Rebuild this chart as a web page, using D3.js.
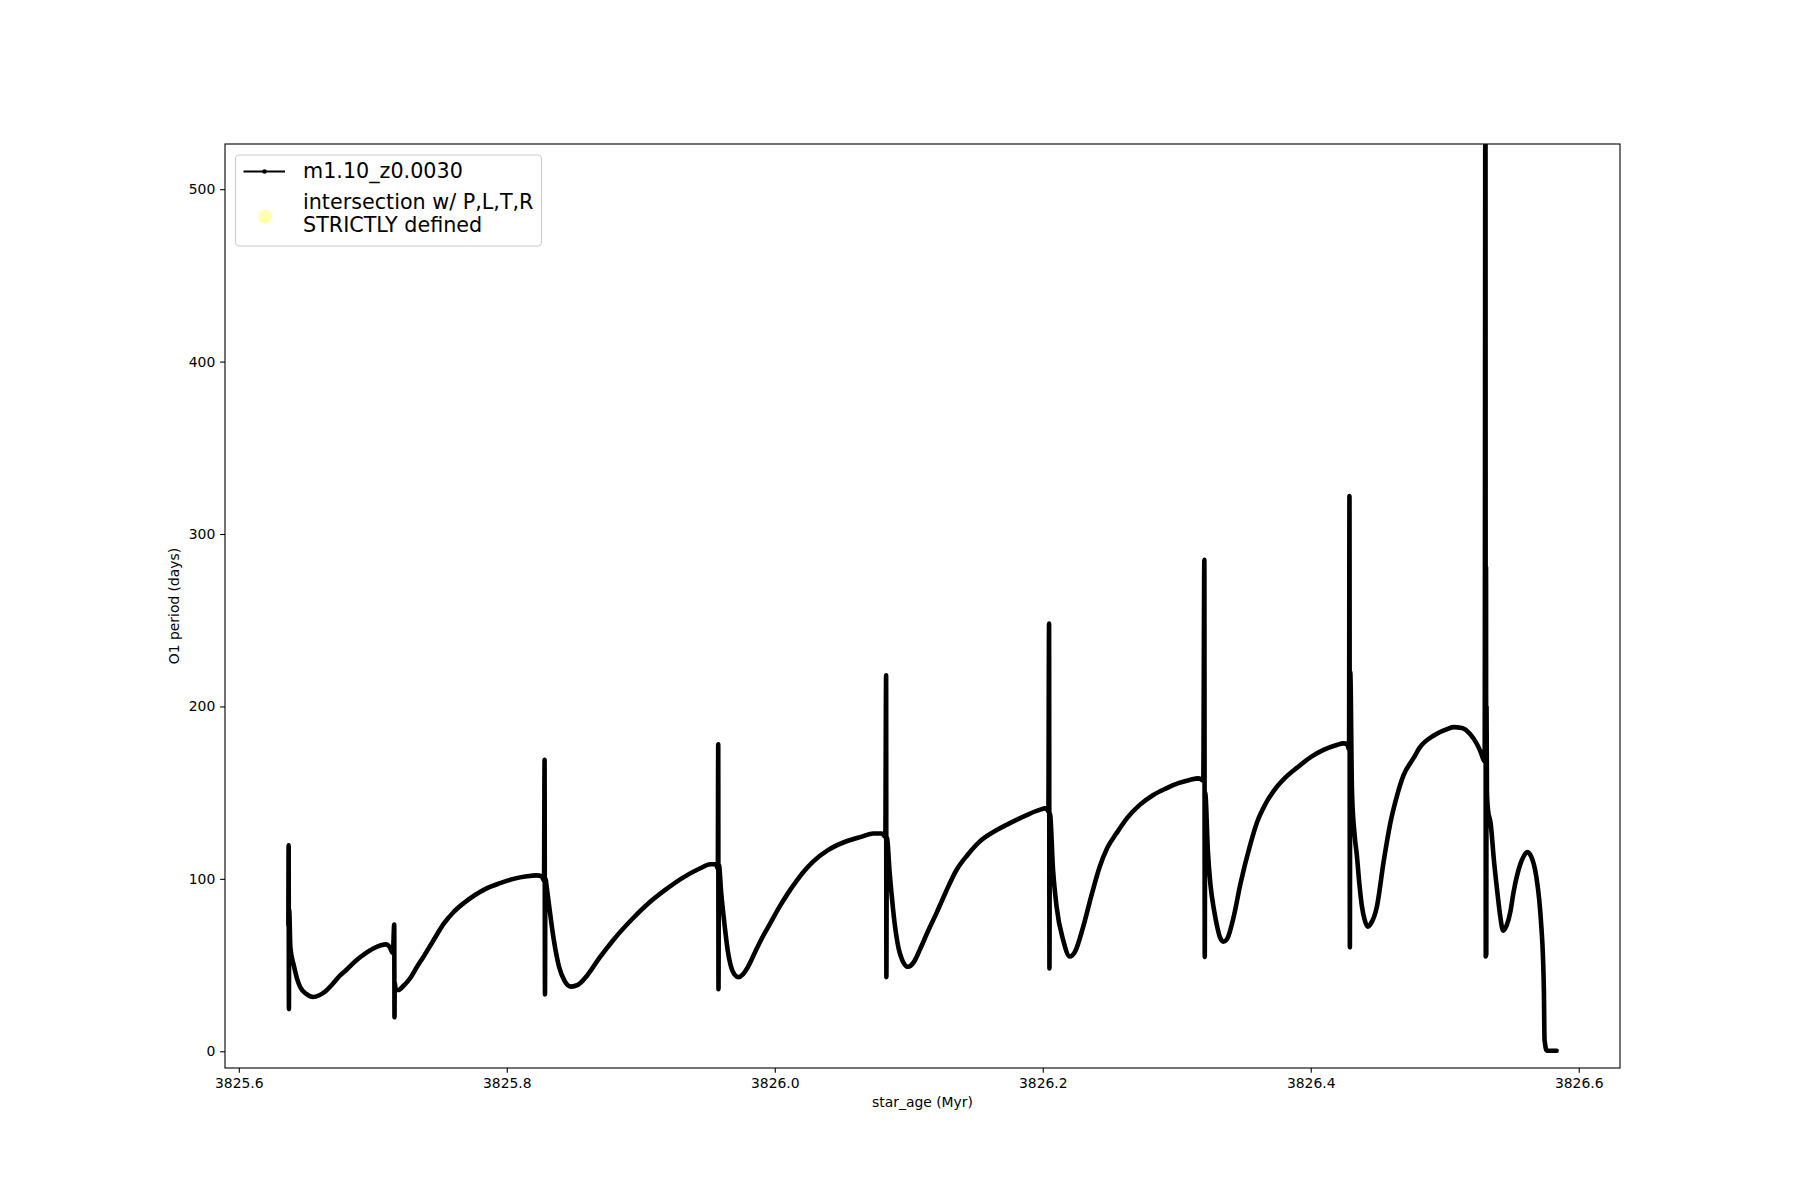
<!DOCTYPE html>
<html>
<head>
<meta charset="utf-8">
<script src="https://cdn.jsdelivr.net/npm/d3@7"></script>
<style>
  html, body { margin: 0; padding: 0; background: #fff; }
  svg { display: block; }
  text { font-family: "DejaVu Sans", sans-serif; fill: #000; }
</style>
</head>
<body>
<svg id="chart" width="1800" height="1200"></svg>
<script>
// ---------------- data ----------------
const seriesName = "m1.10_z0.0030";
const scatterLabel = ["intersection w/ P,L,T,R", "STRICTLY defined"];
const xLabel = "star_age (Myr)";
const yLabel = "O1 period (days)";
const xTicks = [3825.6, 3825.8, 3826.0, 3826.2, 3826.4, 3826.6];
const yTicks = [0, 100, 200, 300, 400, 500];

const starAge = [
  3825.6370, 3825.6372, 3825.6374, 3825.6376, 3825.6385, 3825.6410, 3825.6435, 3825.6460, 3825.6500, 3825.6555,
  3825.6600, 3825.6650, 3825.6700, 3825.6750, 3825.6800, 3825.6880, 3825.6940, 3825.7000, 3825.7060, 3825.7100,
  3825.7125, 3825.7150,
  3825.7160, 3825.7162, 3825.7164, 3825.7170, 3825.7190, 3825.7230, 3825.7280, 3825.7330, 3825.7380, 3825.7450,
  3825.7530, 3825.7600, 3825.7680, 3825.7760, 3825.7850, 3825.7950, 3825.8050, 3825.8150, 3825.8220, 3825.8260,
  3825.8278,
  3825.8282, 3825.8285, 3825.8288, 3825.8300, 3825.8315, 3825.8350, 3825.8390, 3825.8430, 3825.8480, 3825.8530,
  3825.8600, 3825.8690, 3825.8800, 3825.8940, 3825.9060, 3825.9190, 3825.9300, 3825.9440, 3825.9520, 3825.9560,
  3825.9575,
  3825.9578, 3825.9580, 3825.9583, 3825.9600, 3825.9620, 3825.9650, 3825.9670, 3825.9700, 3825.9730, 3825.9760,
  3825.9800, 3825.9850, 3825.9900, 3825.9965, 3826.0037, 3826.0093, 3826.0160, 3826.0220, 3826.0286, 3826.0394,
  3826.0535, 3826.0650, 3826.0734, 3826.0800, 3826.0825,
  3826.0831, 3826.0833, 3826.0836, 3826.0858, 3826.0895, 3826.0933, 3826.0994, 3826.1040, 3826.1082, 3826.1140,
  3826.1206, 3826.1280, 3826.1355, 3826.1440, 3826.1529, 3826.1650, 3826.1777, 3826.1880, 3826.1976, 3826.2026,
  3826.2042,
  3826.2047, 3826.2050, 3826.2053, 3826.2077, 3826.2103, 3826.2152, 3826.2202, 3826.2242, 3826.2301, 3826.2362,
  3826.2425, 3826.2482, 3826.2550, 3826.2632, 3826.2724, 3826.2822, 3826.2922, 3826.3012, 3826.3096, 3826.3165,
  3826.3198,
  3826.3206, 3826.3209, 3826.3212, 3826.3233, 3826.3251, 3826.3278, 3826.3301, 3826.3323, 3826.3348, 3826.3378,
  3826.3425, 3826.3475, 3826.3549, 3826.3600, 3826.3659, 3826.3724, 3826.3808, 3826.3898, 3826.4008, 3826.4096,
  3826.4188, 3826.4245, 3826.4273, 3826.4286,
  3826.4289, 3826.4292, 3826.4295, 3826.4308, 3826.4328, 3826.4345, 3826.4363, 3826.4382, 3826.4403, 3826.4424,
  3826.4448, 3826.4494, 3826.4544, 3826.4593, 3826.4643, 3826.4692, 3826.4767, 3826.4817, 3826.4916, 3826.5008,
  3826.5065, 3826.5128, 3826.5189, 3826.5238, 3826.5266, 3826.5298,
  3826.5304, 3826.5306, 3826.5308, 3826.5310, 3826.5312, 3826.5315, 3826.5323, 3826.5343, 3826.5368, 3826.5393,
  3826.5413, 3826.5436, 3826.5462, 3826.5490, 3826.5513, 3826.5562, 3826.5592, 3826.5615, 3826.5645, 3826.5684,
  3826.5705, 3826.5721, 3826.5733, 3826.5740, 3826.5745, 3826.5762, 3826.5800, 3826.5835
];

const o1Period = [
  73, 119.5, 24.5, 82, 60, 50, 42, 37, 33.5, 31.5,
  32.5, 35, 39, 43.5, 47, 53, 56.5, 59.5, 61.5, 62,
  60.5, 57,
  73.5, 19.7, 40, 36, 35.5, 38, 42.5, 49, 55, 64,
  74, 80.5, 86, 90.5, 94.5, 97.5, 100, 101.5, 102, 101.5,
  99,
  169, 33, 100, 94, 85, 65, 49, 41, 37.5, 38.5,
  44, 54, 65, 77, 86, 94, 100, 106, 108.5, 108.5,
  106,
  178, 36, 108, 92, 77, 58, 50, 44.5, 43, 44.5,
  49, 57, 65, 74, 84, 91, 98.5, 104.5, 110, 116.5,
  121.8, 124.5, 126.3, 126.3, 124.5,
  218, 43, 124, 103, 74, 57, 49, 52, 58.8, 69,
  80, 93, 105, 114, 121.6, 128, 133.2, 137, 140, 141,
  139,
  248, 48, 138, 105, 84, 64.6, 55, 58, 72, 90,
  107, 118, 126.4, 135.5, 142.9, 148.5, 152.5, 155.5, 157.4, 158.3,
  157,
  285, 54.7, 150, 115, 97, 82, 72.5, 66, 63.6, 65.5,
  78, 97, 120, 133, 143, 151, 158.5, 164.5, 171, 174.8,
  177.5, 178.6, 178, 175,
  322, 60.3, 220, 150, 125, 113, 97, 84, 76, 72.3,
  74, 84, 110, 132, 148, 160, 170, 176.5, 183, 186.5,
  188, 187.5, 184, 178.5, 174, 168,
  610, 55, 281, 56, 200, 150, 140, 132, 110, 92,
  79, 70, 73, 81, 92, 108, 113.5, 115.5, 113, 101,
  88, 72.3, 55, 35, 6.5, 0.4, 0.3, 0.3
];

// ---------------- layout ----------------
const plot = { left: 225, right: 1620, top: 144, bottom: 1068 };
const svg = d3.select("#chart");

const x = d3.scaleLinear().domain([3825.5897, 3826.6308]).range([plot.left, plot.right]);
const y = d3.scaleLinear().domain([-9.7, 526.2]).range([plot.bottom, plot.top]);

const points = starAge.map((a, i) => [a, o1Period[i]]);

svg.append("defs").append("clipPath").attr("id", "clip")
  .append("rect")
  .attr("x", plot.left).attr("y", plot.top)
  .attr("width", plot.right - plot.left).attr("height", plot.bottom - plot.top);

// data line (dense markers look like a thick line)
const line = d3.line().x(d => x(d[0])).y(d => y(d[1])).curve(d3.curveMonotoneX);
svg.append("path")
  .datum(points)
  .attr("clip-path", "url(#clip)")
  .attr("d", line)
  .attr("fill", "none")
  .attr("stroke", "#000")
  .attr("stroke-width", 4.6)
  .attr("stroke-linejoin", "round")
  .attr("stroke-linecap", "round");

// axes
const tickLen = 4.86, tickPad = 4.86;
const xAxis = d3.axisBottom(x).tickValues(xTicks).tickFormat(d3.format(".1f"))
  .tickSize(tickLen).tickPadding(tickPad);
const yAxis = d3.axisLeft(y).tickValues(yTicks).tickFormat(d3.format("d"))
  .tickSize(tickLen).tickPadding(tickPad);

const gx = svg.append("g").attr("transform", `translate(0,${plot.bottom})`).call(xAxis);
const gy = svg.append("g").attr("transform", `translate(${plot.left},0)`).call(yAxis);
[gx, gy].forEach(g => {
  g.select(".domain").remove();
  g.selectAll(".tick line").attr("stroke", "#000").attr("stroke-width", 1.1);
  g.selectAll(".tick text").attr("font-size", "13.9px")
    .attr("font-family", "DejaVu Sans, sans-serif").attr("fill", "#000");
});

// frame
svg.append("rect")
  .attr("x", plot.left).attr("y", plot.top)
  .attr("width", plot.right - plot.left).attr("height", plot.bottom - plot.top)
  .attr("fill", "none").attr("stroke", "#000").attr("stroke-width", 1.1);

// axis labels
svg.append("text")
  .attr("x", (plot.left + plot.right) / 2).attr("y", 1107)
  .attr("text-anchor", "middle").attr("font-size", "13.9px")
  .text(xLabel);
svg.append("text")
  .attr("transform", `translate(179,${(plot.top + plot.bottom) / 2}) rotate(-90)`)
  .attr("text-anchor", "middle").attr("font-size", "13.9px")
  .text(yLabel);

// legend
const lg = svg.append("g");
lg.append("rect")
  .attr("x", 235.5).attr("y", 155).attr("width", 306).attr("height", 91)
  .attr("rx", 4).attr("ry", 4)
  .attr("fill", "#fff").attr("fill-opacity", 0.8)
  .attr("stroke", "#cccccc").attr("stroke-width", 1.1);
lg.append("line")
  .attr("x1", 243.5).attr("x2", 285).attr("y1", 171.5).attr("y2", 171.5)
  .attr("stroke", "#000").attr("stroke-width", 2);
lg.append("circle").attr("cx", 264.5).attr("cy", 171.5).attr("r", 2.3).attr("fill", "#000");
lg.append("text").attr("x", 303).attr("y", 178).attr("font-size", "20.7px").text(seriesName);
lg.append("circle").attr("cx", 265).attr("cy", 216.5).attr("r", 7)
  .attr("fill", "#ffff00").attr("fill-opacity", 0.3);
lg.append("text").attr("x", 303).attr("y", 208.5).attr("font-size", "20.7px").text(scatterLabel[0]);
lg.append("text").attr("x", 303).attr("y", 232).attr("font-size", "20.7px").text(scatterLabel[1]);
</script>
</body>
</html>
